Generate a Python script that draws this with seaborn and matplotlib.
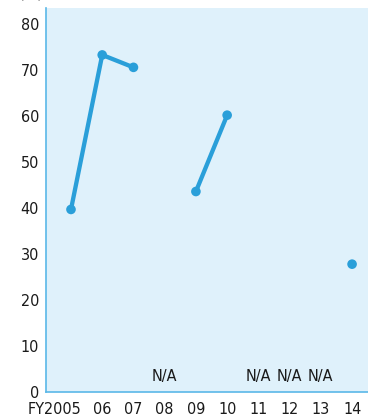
import matplotlib
matplotlib.use("Agg")
import matplotlib.pyplot as plt
import matplotlib.transforms as mtransforms
import numpy as np
import pandas as pd
import seaborn as sns

# Data
years = ['FY2005', '06', '07', '08', '09', '10', '11', '12', '13', '14']
values = [39.7, 73.3, 70.6, np.nan, 43.6, 60.2, np.nan, np.nan, np.nan, 27.8]
na_label = 'N/A'

df = pd.DataFrame({'pos': range(len(years)), 'value': values})
# break the line wherever a value is missing
df['segment'] = df['value'].isna().cumsum()
valid = df.dropna()

sns.set_style('white')
plt.rcParams['font.family'] = ['DejaVu Sans']
plt.rcParams['font.stretch'] = 'condensed'

line_col = '#2a9fd9'
bg_col = '#dff1fb'
spine_col = '#5ab8e8'
txt_col = '#1a1a1a'
fs = 11.5

fig = plt.figure(figsize=(3.68, 4.16), dpi=100)
ax = fig.add_axes([0.125, 0.0577, 0.875, 0.923])
ax.set_facecolor(bg_col)

sns.lineplot(data=valid, x='pos', y='value', units='segment', estimator=None,
             color=line_col, linewidth=3.1, ax=ax, legend=False)
sns.scatterplot(data=valid, x='pos', y='value', color=line_col, s=48,
                edgecolor='none', ax=ax, legend=False, zorder=3)

# N/A markers for missing years
for p, v in zip(df['pos'], df['value']):
    if np.isnan(v):
        ax.text(p, 3.3, na_label, ha='center', va='center', fontsize=fs,
                color=txt_col, fontstretch='condensed')

ax.set_xlim(-0.8, 9.51)
ax.set_ylim(0, 83.5)
ax.set_xticks(range(len(years)))
ax.set_xticklabels(years)
ax.set_yticks(range(0, 81, 10))
ax.tick_params(axis='both', length=0, labelsize=fs, colors=txt_col)
ax.tick_params(axis='x', pad=7)
ax.tick_params(axis='y', pad=5)
ax.set_xlabel('')
ax.set_ylabel('')

# first label sits left of its tick, like the original
first = ax.get_xticklabels()[0]
first.set_horizontalalignment('right')
first.set_transform(first.get_transform() +
                    mtransforms.ScaledTranslation(10 / 100, 0, fig.dpi_scale_trans))

for side in ['top', 'right']:
    ax.spines[side].set_visible(False)
for side in ['left', 'bottom']:
    ax.spines[side].set_color(spine_col)
    ax.spines[side].set_linewidth(1.2)

fig.text(0.085, 1.016, '(%)', ha='center', va='center', fontsize=fs, color=txt_col)

fig.savefig('out.png', dpi=100)
